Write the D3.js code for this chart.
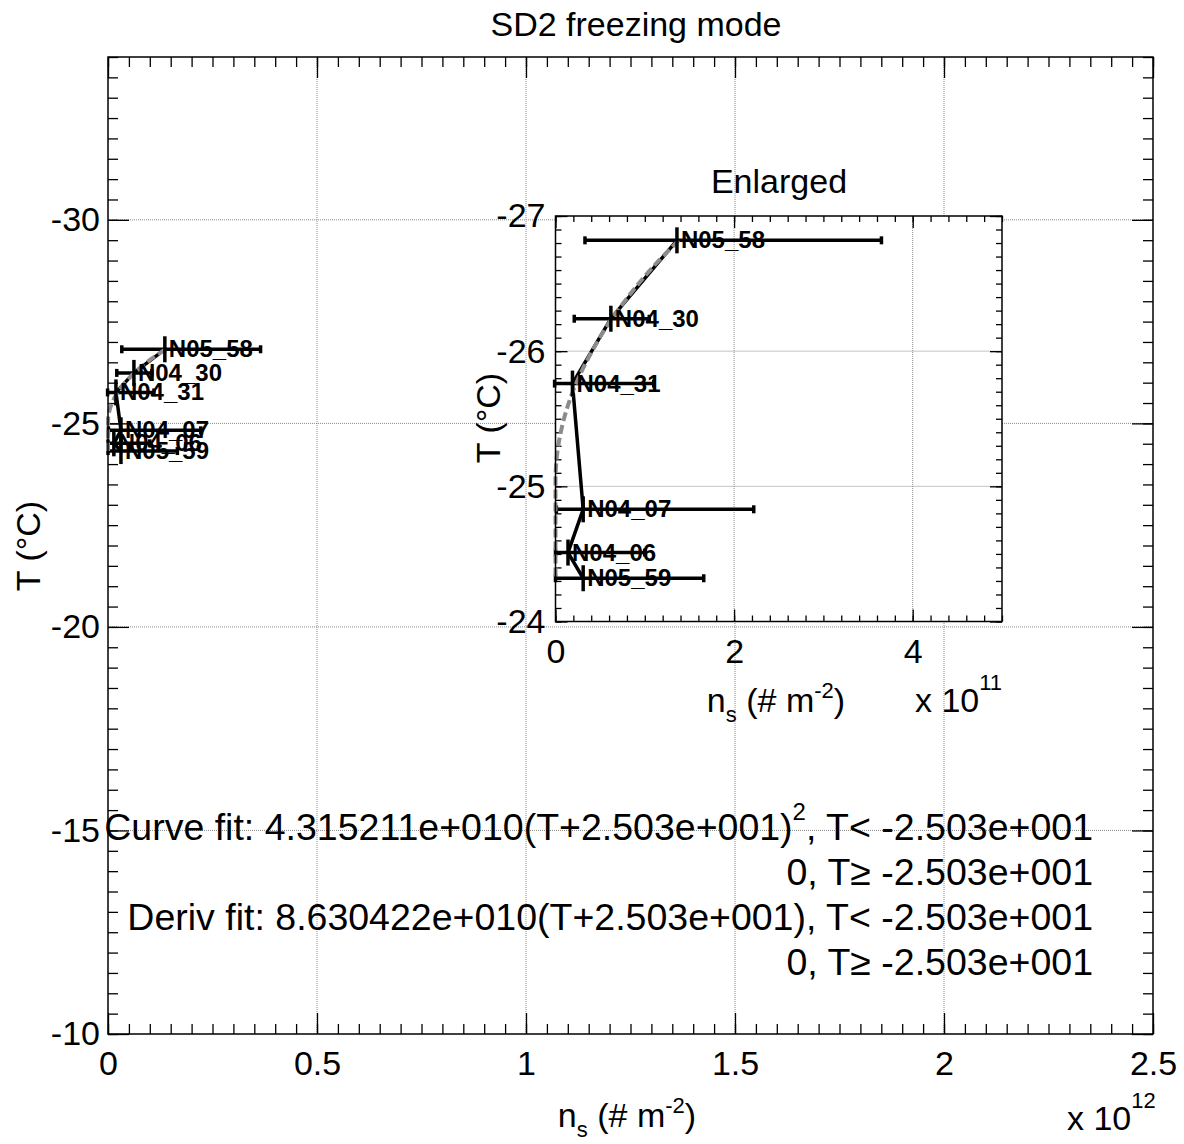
<!DOCTYPE html>
<html>
<head>
<meta charset="utf-8">
<script src="https://cdn.jsdelivr.net/npm/d3@7"></script>
<style>
  html, body { margin: 0; padding: 0; background: #fff; }
  text { font-family: "Liberation Sans", Arial, sans-serif; fill: #000; }
</style>
</head>
<body>
<div id="chart"></div>
<script>
// sample data
const labels = ['N05_58', 'N04_30', 'N04_31', 'N04_07', 'N04_06', 'N05_59'];
const temps  = [-26.82, -26.24, -25.76, -24.83, -24.51, -24.32];
const ns     = [1.36e11, 0.62e11, 0.19e11, 0.31e11, 0.14e11, 0.31e11];
const nsLo   = [0.33e11, 0.21e11, -0.01e11, 0.01e11, 0.0, 0.0];
const nsHi   = [3.65e11, 1.05e11, 1.1e11, 2.22e11, 1.0e11, 1.66e11];

// dashed fit curve
const fitT  = [-26.82, -26.6, -26.4, -26.2, -26.0, -25.8, -25.6, -25.4, -25.2, -25.03, -24.32];
const fitNs = [1.38e11, 1.06e11, 0.81e11, 0.59e11, 0.41e11, 0.256e11, 0.14e11, 0.059e11, 0.012e11, 0, 0];

// axis ticks
const mainXTicks  = [0, 0.5e12, 1e12, 1.5e12, 2e12, 2.5e12];
const mainXLabels = ['0', '0.5', '1', '1.5', '2', '2.5'];
const mainYTicks  = [-30, -25, -20, -15, -10];
const insXTicks   = [0, 2e11, 4e11];
const insXLabels  = ['0', '2', '4'];
const insYTicks   = [-27, -26, -25, -24];

const fitLines = [
  ['Curve fit: 4.315211e+010(T+2.503e+001)', '2', ', T< -2.503e+001'],
  ['0, T\u2265 -2.503e+001'],
  ['Deriv fit: 8.630422e+010(T+2.503e+001), T< -2.503e+001'],
  ['0, T\u2265 -2.503e+001']
];

const W = 1184, H = 1144;
const FS = 34;
const svg = d3.select('#chart').append('svg').attr('width', W).attr('height', H);
svg.append('rect').attr('width', W).attr('height', H).attr('fill', '#fff');

function panel(g, x, y, o) {
  const [x0, x1] = x.range(), [y0, y1] = y.range();
  if (o.bg) g.append('rect').attr('x', x0).attr('y', y0).attr('width', x1 - x0).attr('height', y1 - y0).attr('fill', '#fff');

  // grid
  const grid = g.append('g').attr('stroke', '#8a8a8a').attr('stroke-width', 1).attr('stroke-dasharray', '1,1');
  grid.selectAll('.gx').data(o.xMajor.filter(v => v > x.domain()[0] && v < x.domain()[1])).join('line')
    .attr('x1', d => x(d)).attr('x2', d => x(d)).attr('y1', y0).attr('y2', y1);
  grid.selectAll('.gy').data(o.yMajor.filter(v => v > y.domain()[0] && v < y.domain()[1])).join('line')
    .attr('x1', x0).attr('x2', x1).attr('y1', d => y(d)).attr('y2', d => y(d));

  // ticks on all sides, pointing in
  const ax = [
    [d3.axisBottom, y1, 'x'], [d3.axisTop, y0, 'x'],
    [d3.axisLeft, x0, 'y'], [d3.axisRight, x1, 'y']
  ];
  ax.forEach(([fn, pos, k]) => {
    const sc = k === 'x' ? x : y;
    const minor = fn(sc).tickValues(sc.ticks(o[k + 'Minor'])).tickSize(-o.minorLen).tickFormat('');
    const major = fn(sc).tickValues(o[k + 'Major']).tickSize(-o.majorLen).tickFormat('');
    [minor, major].forEach(a => {
      const t = g.append('g').attr('transform', k === 'x' ? `translate(0,${pos})` : `translate(${pos},0)`).call(a);
      t.select('.domain').remove();
      t.selectAll('line').attr('stroke', '#000').attr('stroke-width', 1.3);
    });
  });

  // tick labels
  const bl = g.append('g').attr('transform', `translate(0,${y1})`)
    .call(d3.axisBottom(x).tickValues(o.xMajor).tickSize(0).tickPadding(o.xPad)
      .tickFormat((d, i) => o.xLabels[i]));
  bl.select('.domain').remove();
  bl.selectAll('text').attr('font-size', FS).attr('font-family', null);
  const ll = g.append('g').attr('transform', `translate(${x0},0)`)
    .call(d3.axisLeft(y).tickValues(o.yMajor).tickSize(0).tickPadding(o.yPad).tickFormat(d => String(d)));
  ll.select('.domain').remove();
  ll.selectAll('text').attr('font-size', FS).attr('font-family', null);

  // data: error bars
  const d = g.append('g');
  const idx = d3.range(labels.length);
  const LW = 3.5;
  d.selectAll('.eb').data(idx).join('line')
    .attr('x1', i => x(nsLo[i])).attr('x2', i => x(nsHi[i]))
    .attr('y1', i => y(temps[i])).attr('y2', i => y(temps[i]))
    .attr('stroke', '#000').attr('stroke-width', LW);
  ['lo', 'hi'].forEach(s => {
    d.selectAll('.cap' + s).data(idx).join('line')
      .attr('x1', i => x(s === 'lo' ? nsLo[i] : nsHi[i])).attr('x2', i => x(s === 'lo' ? nsLo[i] : nsHi[i]))
      .attr('y1', i => y(temps[i]) - 4).attr('y2', i => y(temps[i]) + 4)
      .attr('stroke', '#000').attr('stroke-width', LW);
  });
  // connecting line
  d.append('path').datum(idx)
    .attr('d', d3.line().x(i => x(ns[i])).y(i => y(temps[i])))
    .attr('fill', 'none').attr('stroke', '#000').attr('stroke-width', LW).attr('stroke-linejoin', 'round');
  // fit curve
  d.append('path').datum(d3.range(fitT.length))
    .attr('d', d3.line().x(i => x(fitNs[i])).y(i => y(fitT[i])).curve(d3.curveMonotoneY))
    .attr('fill', 'none').attr('stroke', '#8c8c8c').attr('stroke-width', 4).attr('stroke-dasharray', '9,4');
  // markers
  d.selectAll('.mk').data(idx).join('line')
    .attr('x1', i => x(ns[i])).attr('x2', i => x(ns[i]))
    .attr('y1', i => y(temps[i]) - 13).attr('y2', i => y(temps[i]) + 13)
    .attr('stroke', '#000').attr('stroke-width', LW);
  // labels
  d.selectAll('.lb').data(idx).join('text')
    .attr('x', i => x(ns[i]) + 4).attr('y', i => y(temps[i]) + 8)
    .attr('font-size', 24).attr('font-weight', 'bold')
    .text(i => labels[i]);

  // frame
  g.append('rect').attr('x', x0).attr('y', y0).attr('width', x1 - x0).attr('height', y1 - y0)
    .attr('fill', 'none').attr('stroke', '#000').attr('stroke-width', 1.5);
}

function nsLabel(g, cx, by) {
  const t = g.append('text').attr('x', cx).attr('y', by).attr('text-anchor', 'middle').attr('font-size', FS);
  t.append('tspan').text('n');
  t.append('tspan').attr('font-size', 22).attr('dy', 10).text('s');
  t.append('tspan').attr('dy', -10).text(' (# m');
  t.append('tspan').attr('font-size', 22).attr('dy', -14).text('-2');
  t.append('tspan').attr('dy', 14).text(')');
}

function expLabel(g, lx, by, e) {
  const t = g.append('text').attr('x', lx).attr('y', by).attr('font-size', FS);
  t.append('tspan').text('x 10');
  t.append('tspan').attr('font-size', 22).attr('dy', -22).text(e);
}

// main panel
const x = d3.scaleLinear().domain([0, 2.5e12]).range([108, 1153]);
const y = d3.scaleLinear().domain([-34, -10]).range([57, 1034]);
const gMain = svg.append('g');
panel(gMain, x, y, {
  xMajor: mainXTicks, xLabels: mainXLabels, yMajor: mainYTicks,
  xMinor: 50, yMinor: 48, minorLen: 10, majorLen: 21, xPad: 17, yPad: 8
});

// fit text
fitLines.forEach((parts, li) => {
  const t = gMain.append('text').attr('x', 1093).attr('y', 840 + li * 45)
    .attr('text-anchor', 'end').attr('font-size', 37.5);
  if (parts.length === 1) { t.text(parts[0]); return; }
  t.append('tspan').text(parts[0]);
  t.append('tspan').attr('font-size', 24).attr('dy', -20).text(parts[1]);
  t.append('tspan').attr('dy', 20).text(parts[2]);
});

svg.append('text').attr('x', 636).attr('y', 36).attr('text-anchor', 'middle').attr('font-size', FS).text('SD2 freezing mode');
svg.append('text').attr('transform', 'translate(40,546) rotate(-90)').attr('text-anchor', 'middle').attr('font-size', FS).text('T (\u00B0C)');
nsLabel(svg, 627, 1127);
expLabel(svg, 1067, 1130, '12');

// inset
const xi = d3.scaleLinear().domain([0, 5e11]).range([555.5, 1002]);
const yi = d3.scaleLinear().domain([-27, -24]).range([216, 621.5]);
const gIn = svg.append('g');
panel(gIn, xi, yi, {
  bg: true, xMajor: insXTicks, xLabels: insXLabels, yMajor: insYTicks,
  xMinor: 25, yMinor: 30, minorLen: 6, majorLen: 12, xPad: 17, yPad: 10
});
svg.append('text').attr('x', 779).attr('y', 193).attr('text-anchor', 'middle').attr('font-size', FS).text('Enlarged');
svg.append('text').attr('transform', 'translate(500,418) rotate(-90)').attr('text-anchor', 'middle').attr('font-size', FS).text('T (\u00B0C)');
nsLabel(svg, 776, 712);
expLabel(svg, 915, 712, '11');
</script>
</body>
</html>
